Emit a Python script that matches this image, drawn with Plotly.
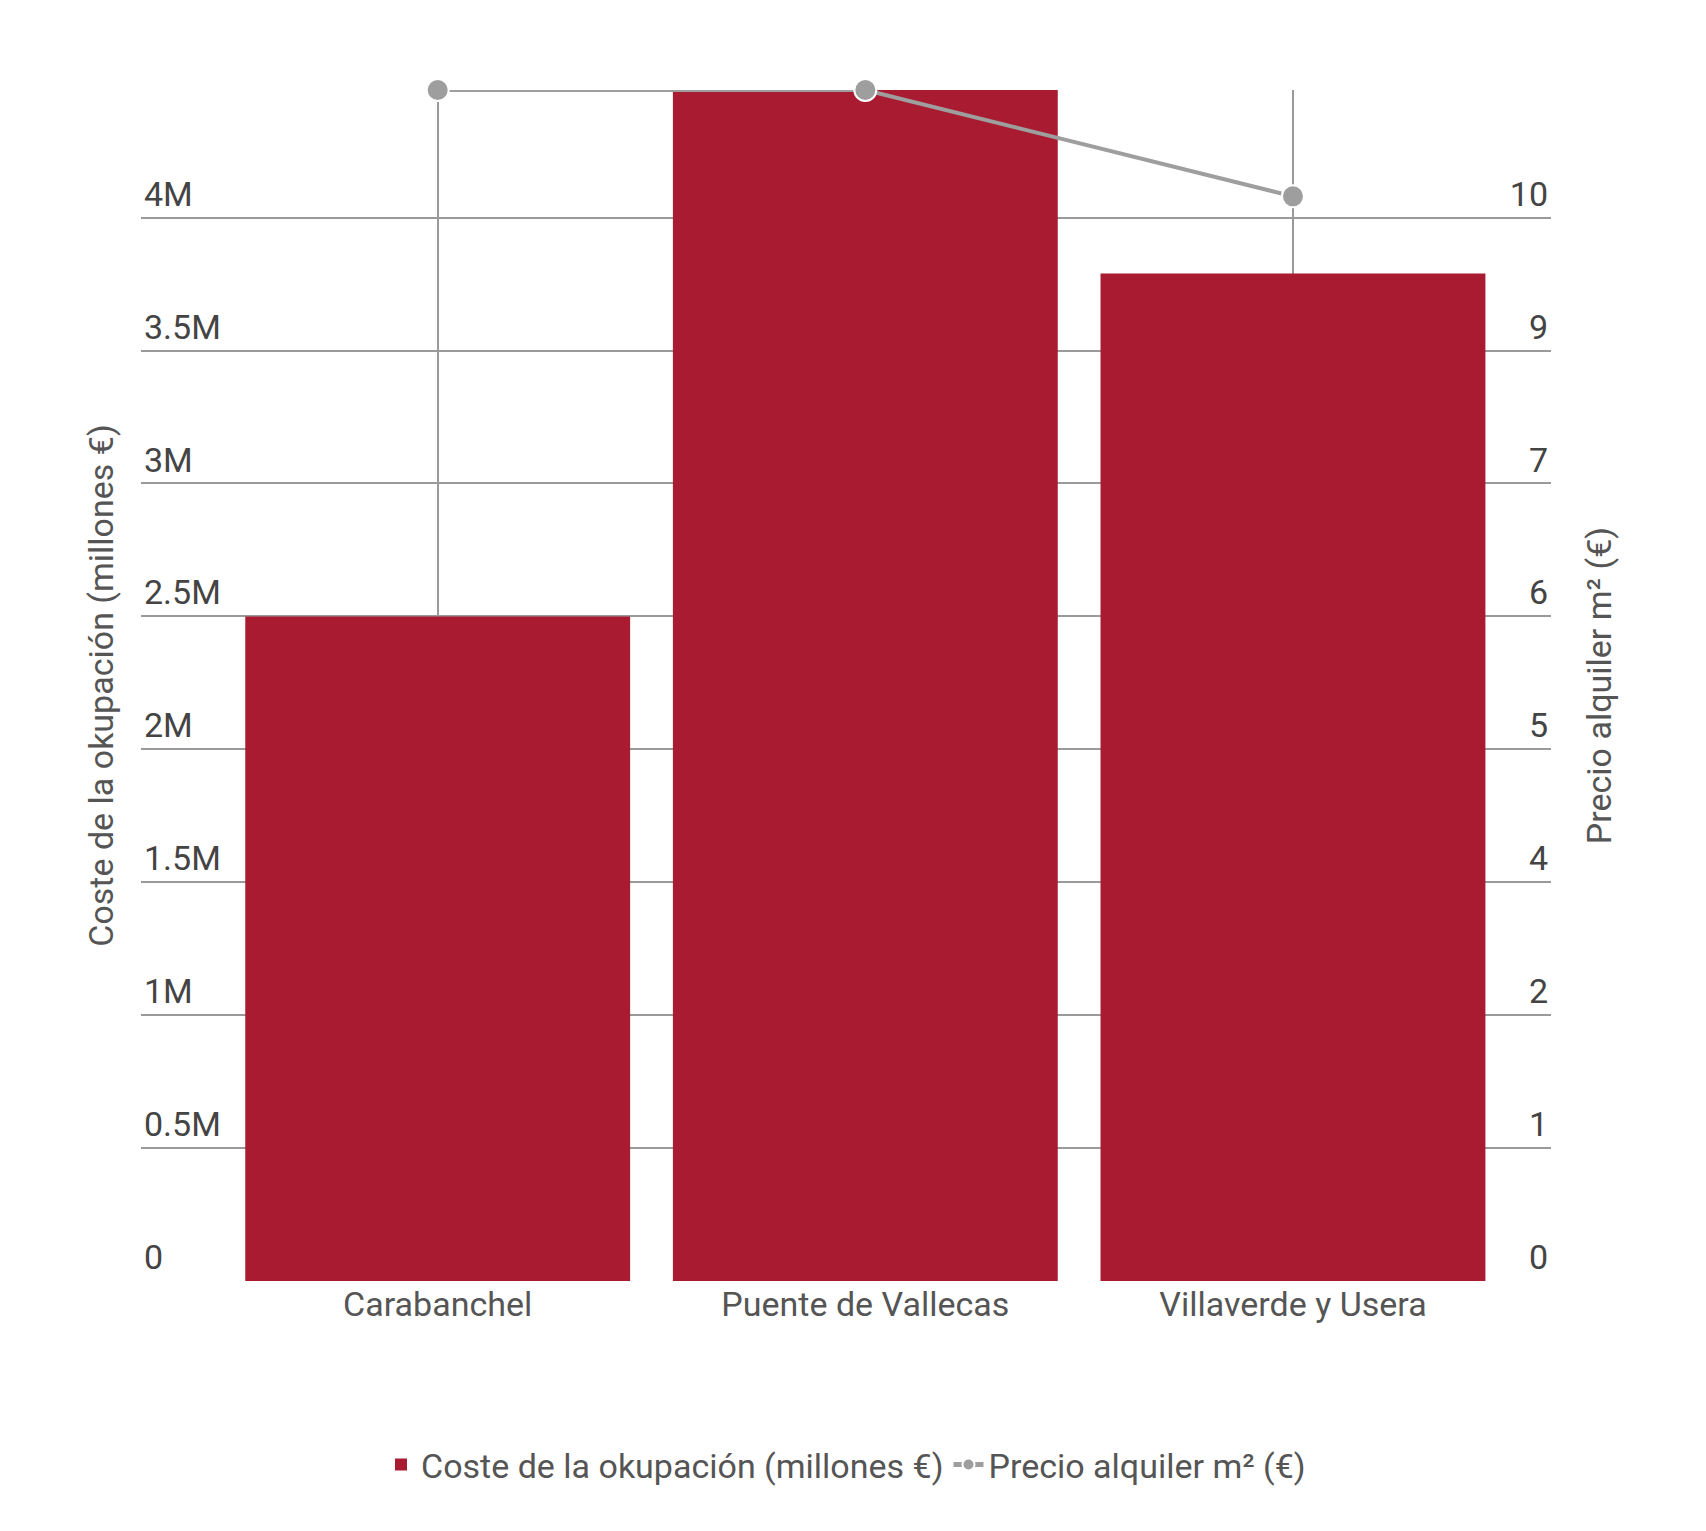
import plotly.graph_objects as go

categories = ["Carabanchel", "Puente de Vallecas", "Villaverde y Usera"]
coste = [2.5e6, 4.6e6, 3.79e6]
precio = [11.2, 11.2, 10.2]
left_ticks = [0, 0.5e6, 1e6, 1.5e6, 2e6, 2.5e6, 3e6, 3.5e6, 4e6]
left_labels = ["0", "0.5M", "1M", "1.5M", "2M", "2.5M", "3M", "3.5M", "4M"]
right_ticks = [0, 1.25, 2.5, 3.75, 5, 6.25, 7.5, 8.75, 10]
right_labels = ["0", "1", "2", "4", "5", "6", "7", "9", "10"]

TXT = "#555555"
F = "Roboto"
fig = go.Figure()
fig.add_trace(go.Bar(x=categories, y=coste, name="Coste de la okupación (millones €)",
                     marker=dict(color="#a91b30", line=dict(width=0))))
fig.add_trace(go.Scatter(x=categories, y=precio, name="Precio alquiler m² (€)", yaxis="y2",
                         mode="lines+markers", cliponaxis=False,
                         line=dict(color="#9e9e9e", width=4),
                         marker=dict(color="#9e9e9e", size=22, line=dict(color="white", width=2))))
fig.update_layout(
    width=1706, height=1531, plot_bgcolor="white", paper_bgcolor="white",
    margin=dict(l=133, r=163, t=82, b=258),
    font=dict(family=F, size=34, color=TXT),
    bargap=0.1,
    xaxis=dict(showgrid=True, gridcolor="#9a9a9a", gridwidth=2, tickfont=dict(size=34),
               showline=False, zeroline=False, ticks=""),
    yaxis=dict(range=[0, 4.48e6], tickvals=left_ticks, ticktext=left_labels,
               ticklabelposition="inside top", gridcolor="#9a9a9a", gridwidth=2,
               zeroline=False, tickfont=dict(size=34),
               title=dict(text="Coste de la okupación (millones €)", standoff=20, font=dict(size=34))),
    yaxis2=dict(range=[0, 11.2], overlaying="y", side="right", tickvals=right_ticks,
                ticktext=right_labels, ticklabelposition="inside top", showgrid=False,
                zeroline=False, tickfont=dict(size=34),
                title=dict(text="Precio alquiler m² (€)", standoff=40, font=dict(size=34))),
    legend=dict(orientation="h", x=0.5, xanchor="center", y=-0.13, yanchor="top",
                font=dict(size=34), itemsizing="constant"),
)
fig.write_html("out.html")
